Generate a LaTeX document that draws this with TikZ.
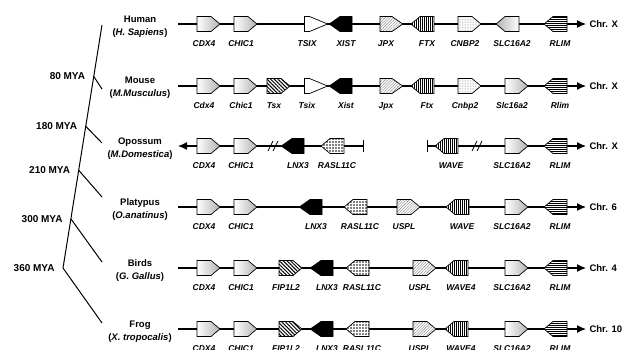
\documentclass[tikz,border=0pt]{standalone}
\usepackage{fontspec}
\setmainfont{Liberation Sans}
\usetikzlibrary{arrows.meta,positioning,calc,shapes.symbols,patterns.meta}

\tikzset{
  gene/.style={signal,draw,line width=0.7pt,minimum size=0pt,inner xsep=7pt,inner ysep=7.5pt,
    signal pointer angle=80},
  gR/.style={gene,signal to=east},
  gL/.style={gene,signal to=west},
  shR/.style={gR,left color=white,right color=gray!60},
  shL/.style={gL,left color=gray!60,right color=white},
  wtR/.style={gR,fill=white,signal pointer angle=45,inner xsep=2.5pt},
  bkL/.style={gL,fill=black,signal pointer angle=70,inner xsep=6pt},
  htR/.style={gR,preaction={fill=white},pattern={Lines[angle=45,distance=2pt,line width=0.4pt]},pattern color=gray},
  jpR/.style={htR,signal pointer angle=70,inner xsep=6pt},
  stR/.style={gR,preaction={fill=white},pattern={Lines[angle=-45,distance=2.6pt,line width=1pt]}},
  vlL/.style={gL,preaction={fill=white},pattern={Lines[angle=90,distance=2pt,line width=0.5pt]}},
  hlL/.style={gL,preaction={fill=white},pattern={Lines[angle=0,distance=2pt,line width=0.5pt]}},
  dtR/.style={gR,preaction={fill=white},pattern={Dots[distance=1.6pt,radius=0.3pt]},pattern color=gray},
  grL/.style={gL,preaction={fill=white},pattern={Dots[distance=3pt,radius=0.9pt]}},
  glbl/.style={font=\fontsize{8.5}{10}\selectfont\bfseries\itshape,inner sep=0pt,
    text height=6pt,text depth=0pt},
  chr/.style={line width=1.2pt},
  chrlbl/.style={font=\fontsize{9.5}{11}\selectfont\bfseries,right=0pt},
  tree/.style={line width=1pt},
  sp/.style={font=\fontsize{9.5}{13}\selectfont\bfseries,align=center},
  mya/.style={font=\fontsize{10}{12}\selectfont\bfseries}
}

\begin{document}
\begin{tikzpicture}[x=1pt,y=-1pt,>={Latex[length=9pt,width=8pt]}]
  \useasboundingbox (0,0) rectangle (629,349);

  % tree
  \coordinate (top) at (102,25);
  \coordinate (n80) at (93.5,76);
  \coordinate (n180) at (85.5,126);
  \coordinate (n210) at (78.5,170);
  \coordinate (n300) at (71,219);
  \coordinate (n360) at (63,268);
  \coordinate (tM) at (102,89);
  \coordinate (tO) at (102,143);
  \coordinate (tP) at (102,197);
  \coordinate (tB) at (102,262);
  \coordinate (tF) at (102,323);
  \draw[tree] (top) -- (n360);
  \draw[tree] (n80) -- (tM);
  \draw[tree] (n180) -- (tO);
  \draw[tree] (n210) -- (tP);
  \draw[tree] (n300) -- (tB);
  \draw[tree] (n360) -- (tF);
  \node[mya,left=5pt of n80] (l80) {80 MYA};
  \node[mya,left=5pt of n180] (l180) {180 MYA};
  \node[mya,left=5pt of n210] (l210) {210 MYA};
  \node[mya,left=5pt of n300] (l300) {300 MYA};
  \node[mya,left=5pt of n360] (l360) {360 MYA};

  \node[sp] (human) at (140,26.5) {Human\\(\textit{H. Sapiens})};
  \node[sp] (mouse) at (140,88) {Mouse\\(\textit{M.Musculus})};
  \node[sp] (opossum) at (140,149) {Opossum\\(\textit{M.Domestica})};
  \node[sp] (platypus) at (140,209.5) {Platypus\\(\textit{O.anatinus})};
  \node[sp] (birds) at (140,271) {Birds\\(\textit{G. Gallus})};
  \node[sp] (frog) at (140,331.5) {Frog\\(\textit{X. tropocalis})};

  % human
  \coordinate (hS) at (178,24);
  \coordinate (hE) at (586,24);
  \draw[chr,->] (hS) -- (hE);
  \node[chrlbl] (hChr) at (hE) {Chr. X};
  \foreach \x/\g/\s in {204/CDX4/shR,241/CHIC1/shR,307/TSIX/wtR,346/XIST/bkL,386/JPX/jpR,
      427/FTX/vlL,465/CNBP2/dtR,512/SLC16A2/shL,560/RLIM/hlL}{
    \node[\s] (h\g) at (\x,24) {};
    \node[glbl] (h\g l) at ($(h\g)+(0,19)$) {\g};
  }

  % mouse
  \coordinate (mS) at (178,86);
  \coordinate (mE) at (586,86);
  \draw[chr,->] (mS) -- (mE);
  \node[chrlbl] (mChr) at (mE) {Chr. X};
  \foreach \x/\g/\s in {204/Cdx4/shR,241/Chic1/shR,274/Tsx/stR,307/Tsix/wtR,346/Xist/bkL,
      386/Jpx/jpR,427/Ftx/vlL,465/Cnbp2/dtR,512/Slc16a2/shR,560/Rlim/hlL}{
    \node[\s] (m\g) at (\x,86) {};
    \node[glbl] (m\g l) at ($(m\g)+(0,19)$) {\g};
  }

  % opossum
  \coordinate (oS) at (178,146);
  \coordinate (oB1) at (364,146);
  \coordinate (oB2) at (427,146);
  \coordinate (oE) at (586,146);
  \coordinate (oK1) at (273,146);
  \coordinate (oK2) at (477,146);
  \draw[chr,<-{Bar[width=12pt]}] (oS) -- (oB1);
  \draw[chr,{Bar[width=12pt]}->] (oB2) -- (oE);
  \foreach \k in {oK1,oK2}
    \foreach \d in {-2.5,2.5}
      \draw[line width=0.8pt] ($(\k)+(\d-2.5,5)$) -- ($(\k)+(\d+2.5,-5)$);
  \node[chrlbl] (oChr) at (oE) {Chr. X};
  \foreach \x/\g/\s in {204/CDX4/shR,241/CHIC1/shR,298/LNX3/bkL,337/RASL11C/grL,
      451/WAVE/vlL,512/SLC16A2/shR,560/RLIM/hlL}{
    \node[\s] (o\g) at (\x,146) {};
    \node[glbl] (o\g l) at ($(o\g)+(0,19)$) {\g};
  }

  % platypus
  \coordinate (pS) at (178,207);
  \coordinate (pE) at (586,207);
  \draw[chr,->] (pS) -- (pE);
  \node[chrlbl] (pChr) at (pE) {Chr. 6};
  \foreach \x/\g/\s in {204/CDX4/shR,241/CHIC1/shR,316/LNX3/bkL,360/RASL11C/grL,
      404/USPL/htR,462/WAVE/vlL,512/SLC16A2/shR,560/RLIM/hlL}{
    \node[\s] (p\g) at (\x,207) {};
    \node[glbl] (p\g l) at ($(p\g)+(0,19)$) {\g};
  }

  % birds, frog
  \foreach \r/\y/\c in {b/268/4,f/329/10}{
    \coordinate (\r S) at (178,\y);
    \coordinate (\r E) at (586,\y);
    \draw[chr,->] (\r S) -- (\r E);
    \node[chrlbl] (\r Chr) at (\r E) {Chr. \c};
    \foreach \x/\g/\s in {204/CDX4/shR,241/CHIC1/shR,286/FIP1L2/stR,327/LNX3/bkL,
        362/RASL11C/grL,420/USPL/htR,461/WAVE4/vlL,512/SLC16A2/shR,560/RLIM/hlL}{
      \node[\s] (\r\g) at (\x,\y) {};
      \node[glbl] (\r\g l) at ($(\r\g)+(0,19)$) {\g};
    }
  }
\end{tikzpicture}
\end{document}
